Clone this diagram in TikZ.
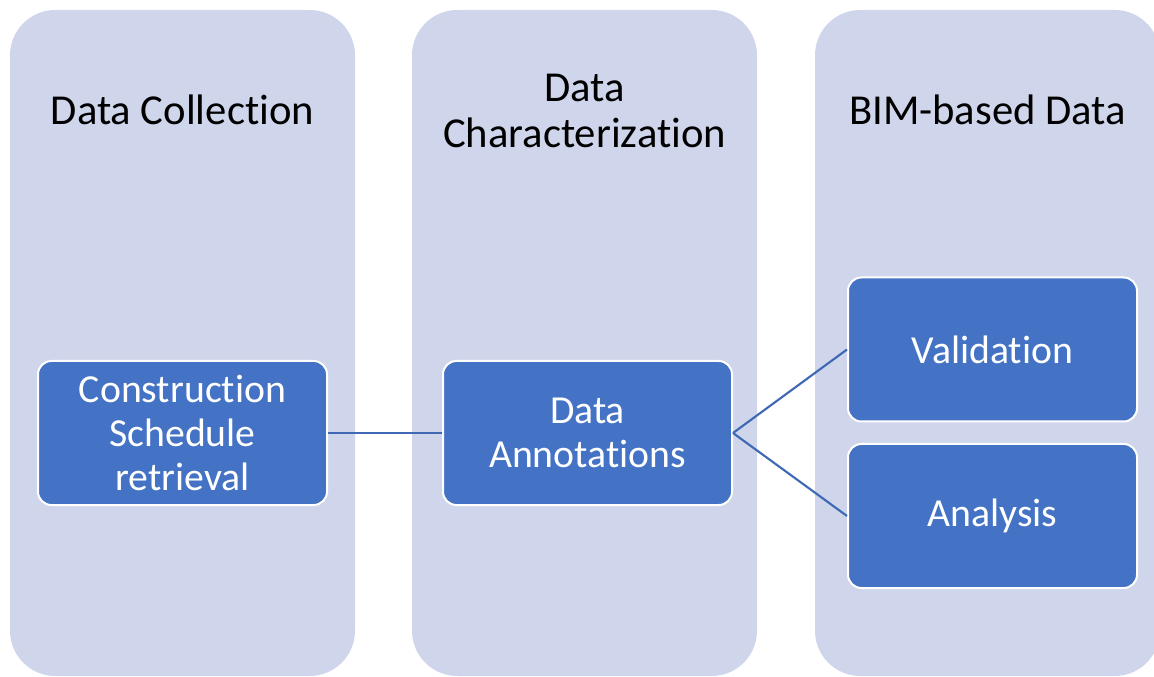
\documentclass[tikz,border=0pt]{standalone}
\usepackage{fontspec}
\setmainfont{Carlito}[RawFeature={-liga;-clig;-calt;-dlig}]
\definecolor{colfill}{HTML}{CFD5EA}
\definecolor{boxfill}{HTML}{4472C4}
\definecolor{linkcol}{HTML}{3F68B5}
\begin{document}
\begin{tikzpicture}[x=0.75pt,y=-0.75pt,
  column/.style={rectangle,rounded corners=34pt,fill=colfill,draw=none,
    minimum width=258.75pt,minimum height=499.5pt,inner sep=0pt},
  title/.style={align=center,text=black,font=\fontsize{32}{34.5}\selectfont},
  taskbox/.style={rectangle,rounded corners=10pt,fill=boxfill,draw=white,line width=1.5pt,
    minimum width=216.75pt,minimum height=108pt,inner sep=0pt,align=center,text=white,
    font=\fontsize{29.8}{33}\selectfont},
  link/.style={draw=linkcol,line width=1.6pt}]
\useasboundingbox (0,0) rectangle (1154,677);
\clip (0,0) rectangle (1154,677);
\node[column] (c1) at (182.5,343) {};
\node[column] (c2) at (584.5,343) {};
\node[column] (c3) at (987.5,343) {};
\node[title] (t1) at (182.5,110) {Data Collection};
\node[title] (t2) at (584.5,111) {Data\\Characterization};
\node[title] (t3) at (987.5,110) {BIM-based Data};
\node[taskbox] (b1) at (182.5,433) {Construction\\Schedule\\retrieval};
\node[taskbox] (b2) at (587.5,433) {Data\\Annotations};
\node[taskbox] (b3) at (992.5,349.5) {Validation};
\node[taskbox] (b4) at (992.5,516) {Analysis};
\draw[link] (b1.east) -- (b2.west);
\draw[link] (b2.east) -- (b3.west);
\draw[link] (b2.east) -- (b4.west);
\end{tikzpicture}
\end{document}
